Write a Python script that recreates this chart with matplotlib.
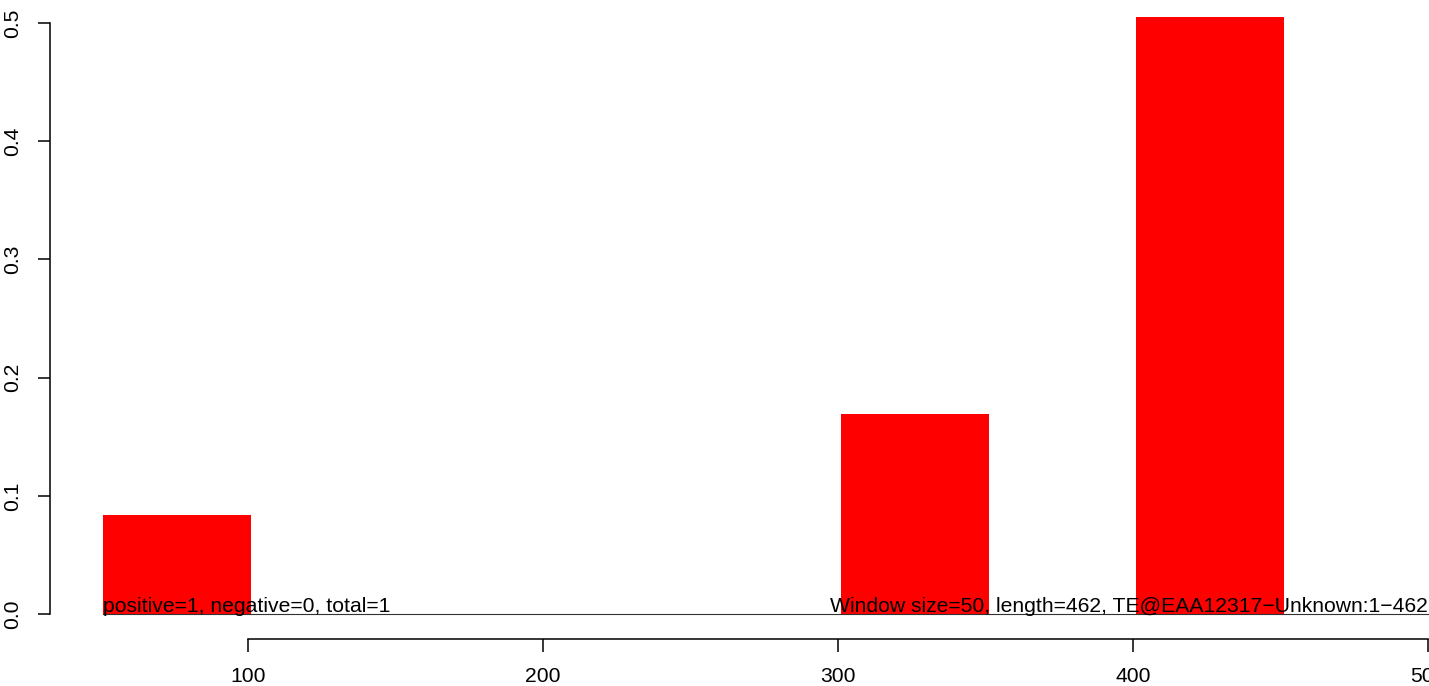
import matplotlib
matplotlib.use("Agg")
import matplotlib.pyplot as plt

plt.rcParams['font.family'] = ['Liberation Sans', 'DejaVu Sans']

# window starts, window width and fraction per window
starts = [51, 301, 401]
width = 50
values = [0.084, 0.169, 0.505]
xticks = [100, 200, 300, 400, 500]
yticks = [0.0, 0.1, 0.2, 0.3, 0.4, 0.5]
left_note = "positive=1, negative=0, total=1"
right_note = "Window size=50, length=462, TE@EAA12317\u2212Unknown:1\u2212462"

W, H = 1429, 686
fig = plt.figure(figsize=(W / 100, H / 100), dpi=100)
ax = fig.add_axes([50 / W, 47 / H, 1 - 50 / W, 1 - 47 / H])

ax.bar(starts, values, width=width, align='edge', color='red', linewidth=0)
ax.plot([starts[0], 520], [0, 0], color='#333333', lw=0.8, clip_on=True)

ax.text(starts[0], 0.002, left_note, ha='left', va='baseline', fontsize=15.2)
ax.text(297.2, 0.002, right_note, ha='left', va='baseline', fontsize=15.2)

ax.set_xlim(32.9, 500.3)
ax.set_ylim(-0.0209, 0.5193)

for s in ['top', 'right']:
    ax.spines[s].set_visible(False)
ax.spines['left'].set_bounds(0, 0.5)
ax.spines['bottom'].set_bounds(100, 500)
ax.spines['left'].set_linewidth(1.1)
ax.spines['bottom'].set_linewidth(1.1)

ax.set_xticks(xticks)
ax.set_xticklabels([str(t) for t in xticks])
ax.set_yticks(yticks)
ax.set_yticklabels(['%.1f' % t for t in yticks], rotation=90, va='center')
ax.tick_params(axis='both', direction='out', length=9, width=1.1, labelsize=15.2, pad=11)

fig.savefig('out.png', dpi=100)
